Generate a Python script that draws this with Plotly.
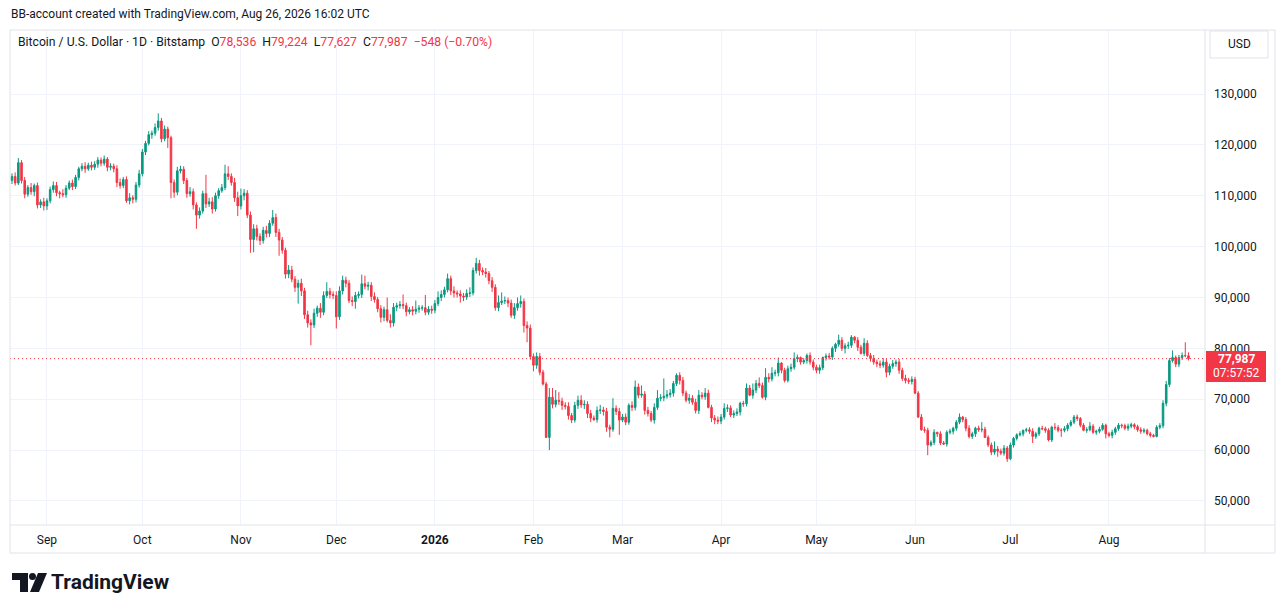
import pandas as pd
import plotly.graph_objects as go

# daily closes, thousands of USD (Bitstamp BTC/USD), one list per month
close_aug25 = [113.8, 112.5, 116.5, 113.0, 110.3, 111.6, 110.8, 112.0, 108.2, 108.8, 108.0]
close_sep25 = [109.0, 111.2, 112.0, 110.6, 110.4, 110.2, 111.5, 112.5, 111.8, 113.6,
               115.3, 115.8, 115.3, 116.0, 115.6, 116.2, 117.0, 116.4, 117.2, 115.6,
               115.8, 115.3, 112.6, 112.0, 113.2, 109.0, 109.6, 109.3, 112.1, 114.3]
close_oct25 = [118.6, 120.3, 122.0, 122.3, 123.4, 124.7, 121.2, 123.1, 121.4, 112.6,
               110.7, 114.9, 115.2, 113.0, 110.4, 110.8, 108.2, 106.2, 107.0, 110.4,
               108.4, 108.8, 107.4, 110.0, 111.0, 111.6, 114.3, 113.8, 112.6, 109.6, 108.0]
close_nov25 = [110.0, 110.5, 106.2, 101.4, 103.5, 102.0, 101.2, 103.2, 102.6, 104.6,
               105.7, 102.8, 101.3, 99.3, 94.6, 95.4, 93.6, 92.0, 92.8, 91.3,
               86.6, 85.0, 84.6, 86.9, 87.9, 87.1, 90.4, 91.2, 90.6, 90.4]
close_dec25 = [86.2, 91.3, 93.4, 92.8, 89.4, 89.2, 90.4, 90.6, 92.7, 92.2,
               92.4, 90.2, 89.6, 87.8, 86.1, 87.6, 85.5, 85.0, 88.1, 88.4,
               88.6, 88.4, 87.2, 87.6, 87.3, 87.7, 87.9, 88.0, 87.1, 87.7, 87.5]
close_jan26 = [88.8, 90.0, 90.6, 91.5, 93.7, 91.3, 90.9, 90.7, 90.3, 90.1,
               90.8, 90.9, 95.3, 96.7, 95.3, 95.0, 94.7, 93.3, 92.0, 88.0,
               89.0, 89.3, 89.4, 88.9, 86.5, 88.0, 88.8, 89.2, 84.5, 84.0, 78.4]
close_feb26 = [76.7, 78.4, 75.3, 73.0, 62.5, 70.4, 69.0, 69.8, 69.6, 68.8,
               68.6, 66.8, 65.9, 68.8, 69.8, 68.9, 69.0, 67.2, 66.3, 66.0,
               67.8, 67.9, 67.6, 64.5, 64.1, 68.2, 67.6, 65.9]
close_mar26 = [66.5, 65.5, 68.8, 68.4, 72.4, 70.8, 71.0, 67.8, 67.2, 65.9,
               68.4, 70.2, 70.3, 70.6, 70.9, 71.2, 73.1, 74.7, 73.7, 71.2,
               69.8, 70.2, 69.4, 67.8, 70.8, 70.5, 71.2, 68.4, 66.3, 65.9, 65.7]
close_apr26 = [66.5, 68.2, 68.3, 66.9, 67.2, 67.5, 69.2, 69.1, 72.2, 70.8,
               71.8, 73.1, 72.7, 70.4, 74.3, 74.0, 75.1, 75.2, 77.1, 75.7,
               73.7, 76.0, 76.3, 78.0, 78.2, 77.3, 77.6, 78.6, 77.3, 76.3]
close_may26 = [75.7, 76.2, 78.2, 78.5, 78.3, 80.0, 80.8, 81.6, 80.0, 80.5,
               80.6, 82.2, 81.6, 80.2, 79.0, 81.0, 78.6, 78.0, 77.3, 77.0,
               76.7, 77.3, 75.3, 76.5, 77.0, 77.3, 75.7, 74.1, 73.7, 73.5, 73.9]
close_jun26 = [71.2, 66.5, 64.0, 63.9, 61.0, 61.5, 63.5, 63.2, 61.4, 61.2,
               63.5, 63.7, 64.3, 65.5, 66.5, 66.0, 64.3, 62.7, 63.2, 64.3,
               64.0, 64.1, 62.5, 61.0, 59.6, 60.2, 59.8, 59.4, 60.4, 58.3]
close_jul26 = [61.0, 62.3, 63.0, 63.2, 63.9, 64.0, 63.7, 62.7, 63.2, 64.3,
               64.2, 63.9, 62.0, 64.5, 64.4, 63.9, 63.9, 64.2, 64.9, 65.5,
               66.5, 66.2, 64.9, 63.9, 64.0, 64.7, 63.5, 63.7, 64.1, 64.9, 63.2]
close_aug26 = [62.9, 63.5, 64.2, 64.9, 64.8, 64.3, 64.7, 65.0, 64.6, 64.0,
               63.7, 63.9, 63.2, 62.9, 62.7, 64.5, 64.8, 69.2, 72.9, 77.6,
               78.2, 76.9, 78.2, 78.6, 78.536, 77.987]

# upper / lower wick lengths (thousands) per candle
up_aug25 = [0.6, 0.8, 0.9, 0.5, 0.7, 0.5, 0.9, 0.4, 0.6, 0.5, 0.8]
up_sep25 = [0.5, 0.6, 0.8, 0.7, 0.4, 0.9, 0.6, 0.5, 0.7, 0.5, 0.4, 0.6, 0.8, 0.5, 0.7,
            0.6, 0.6, 0.5, 0.7, 0.4, 0.6, 0.5, 0.7, 0.8, 0.5, 0.6, 0.9, 0.5, 0.6, 0.8]
up_oct25 = [0.6, 0.5, 0.7, 0.5, 0.8, 1.5, 0.6, 0.7, 0.5, 0.4, 0.6, 0.8, 0.7, 0.6, 0.5, 0.9,
            0.6, 0.5, 0.7, 0.6, 3.7, 0.8, 0.9, 0.6, 0.5, 0.7, 1.8, 1.5, 0.6, 0.9, 1.2]
up_nov25 = [1.4, 0.8, 0.6, 0.7, 0.9, 0.8, 0.6, 0.7, 0.9, 0.6, 1.5, 0.8, 0.7, 0.6, 0.5,
            1.0, 0.8, 0.6, 0.7, 0.9, 0.6, 0.8, 0.7, 0.9, 0.5, 1.0, 0.8, 1.8, 0.7, 0.6]
up_dec25 = [0.8, 0.9, 0.9, 0.7, 0.6, 0.8, 0.7, 0.6, 1.8, 1.6, 0.7, 0.6, 0.8, 0.5, 0.7, 0.6,
            2.4, 1.2, 0.8, 0.6, 0.7, 2.0, 0.6, 0.5, 0.7, 1.7, 0.6, 0.5, 2.5, 0.6, 0.7]
up_jan26 = [0.7, 1.2, 0.8, 0.6, 1.0, 0.6, 0.9, 0.5, 0.7, 0.6, 0.8, 1.1, 0.6, 1.1, 0.7, 0.6,
            0.8, 0.5, 0.7, 0.6, 1.4, 1.7, 0.8, 0.6, 0.7, 0.9, 1.2, 1.2, 0.6, 0.8, 0.7]
up_feb26 = [0.6, 0.8, 0.7, 0.5, 0.4, 1.8, 1.8, 2.0, 1.6, 0.7, 0.6, 0.8, 0.5, 0.7,
            0.9, 1.0, 0.8, 0.6, 0.7, 0.5, 0.8, 1.0, 0.6, 0.7, 0.5, 2.0, 0.6, 0.7]
up_mar26 = [0.6, 0.7, 0.4, 0.8, 1.3, 0.7, 1.7, 0.6, 0.7, 0.5, 0.8, 1.6, 0.7, 3.5, 0.9, 0.8,
            0.5, 0.4, 0.6, 0.7, 0.5, 0.8, 0.6, 0.7, 1.0, 0.6, 1.0, 0.7, 0.5, 0.6, 0.7]
up_apr26 = [0.6, 1.0, 0.7, 0.5, 0.6, 0.7, 0.3, 0.5, 0.9, 0.6, 1.3, 0.7, 1.2, 0.6, 1.8,
            0.8, 1.2, 0.6, 1.1, 0.2, 0.5, 0.6, 0.7, 1.2, 0.6, 0.2, 0.5, 0.4, 0.6, 0.5]
up_may26 = [0.5, 0.6, 0.2, 0.5, 0.6, 0.4, 0.3, 1.1, 0.6, 0.5, 0.7, 0.4, 0.2, 0.6, 0.5, 1.0,
            0.6, 0.5, 0.7, 0.5, 0.6, 0.8, 0.6, 0.5, 0.7, 0.5, 0.6, 0.5, 0.7, 0.5, 0.6]
up_jun26 = [0.5, 0.4, 0.6, 0.6, 0.5, 0.4, 0.6, 0.1, 0.5, 0.4, 0.4, 0.5, 0.3, 0.4, 0.7,
            0.2, 0.5, 0.6, 0.4, 0.3, 0.5, 1.4, 0.5, 0.4, 0.5, 1.5, 0.6, 0.5, 0.6, 0.4]
up_jul26 = [0.5, 0.3, 0.3, 0.5, 0.1, 0.4, 0.5, 0.6, 0.4, 0.3, 0.5, 0.4, 0.4, 0.3, 0.8, 0.5,
            0.4, 0.5, 0.4, 0.4, 0.4, 0.5, 0.3, 0.4, 0.5, 0.8, 0.4, 0.3, 0.5, 0.4, 0.3]
up_aug26 = [0.4, 0.5, 0.4, 0.4, 0.3, 0.4, 0.5, 0.4, 0.3, 0.4, 0.5, 0.4, 0.3,
            0.4, 0.3, 0.4, 0.5, 0.6, 0.7, 0.5, 1.4, 0.4, 0.5, 0.6, 2.6, 0.688]

dn_aug25 = [0.7, 0.5, 0.4, 0.6, 0.8, 0.5, 0.6, 0.9, 0.7, 0.6, 0.9]
dn_sep25 = [0.8, 0.5, 0.6, 0.7, 0.9, 0.5, 0.6, 0.4, 0.7, 0.5, 0.6, 0.5, 0.8, 0.4, 0.6,
            0.5, 0.7, 0.6, 0.5, 0.8, 0.6, 0.7, 0.9, 0.6, 0.5, 0.4, 0.7, 0.8, 0.6, 0.5]
dn_oct25 = [0.5, 0.6, 0.4, 0.8, 0.5, 0.6, 0.7, 0.5, 2.0, 3.1, 1.1, 0.6, 0.5, 0.7, 0.8, 0.6,
            0.9, 2.7, 0.7, 0.5, 0.8, 0.6, 0.9, 0.5, 0.6, 0.4, 0.5, 0.7, 0.6, 0.8, 2.0]
dn_nov25 = [0.7, 0.9, 0.6, 2.6, 2.5, 0.8, 0.9, 0.6, 0.8, 0.7, 0.5, 0.9, 3.1, 0.7, 0.9,
            0.8, 0.6, 0.9, 3.2, 1.0, 0.8, 0.9, 4.0, 0.6, 0.7, 1.1, 0.6, 0.5, 0.8, 0.7]
dn_dec25 = [2.3, 0.6, 0.7, 0.8, 0.5, 0.9, 1.4, 0.6, 0.7, 0.6, 0.8, 0.9, 0.6, 0.7, 1.0, 0.8,
            0.4, 0.9, 0.7, 0.8, 0.6, 0.7, 0.9, 0.5, 0.8, 0.6, 0.7, 0.5, 0.6, 0.5, 0.7]
dn_jan26 = [0.6, 0.5, 0.7, 0.6, 0.5, 0.8, 0.9, 0.7, 1.3, 0.8, 0.6, 0.7, 0.5, 0.6, 1.0, 0.6,
            0.8, 0.7, 0.9, 0.6, 0.7, 0.5, 0.6, 0.8, 0.5, 0.7, 0.6, 0.8, 1.4, 2.8, 0.6]
dn_feb26 = [1.2, 0.7, 0.6, 0.3, 0.1, 2.5, 0.8, 0.6, 0.7, 0.9, 0.6, 0.8, 0.6, 0.5,
            0.7, 0.6, 0.8, 0.9, 0.8, 0.3, 0.6, 0.7, 0.8, 0.9, 1.6, 0.5, 0.7, 2.9]
dn_mar26 = [0.4, 0.6, 0.5, 0.7, 0.6, 0.6, 0.5, 0.8, 0.6, 0.4, 0.7, 0.5, 0.6, 0.7, 0.5, 0.6,
            0.7, 0.5, 0.8, 0.6, 0.4, 0.7, 0.5, 0.6, 0.7, 0.5, 0.6, 0.2, 0.8, 0.8, 0.6]
dn_apr26 = [0.6, 0.5, 0.7, 0.4, 0.6, 0.5, 0.7, 0.6, 0.5, 0.2, 0.7, 0.6, 0.5, 0.3, 0.6,
            0.7, 0.5, 0.6, 0.7, 0.6, 0.4, 0.4, 0.6, 0.5, 0.7, 0.5, 0.4, 0.6, 0.5, 0.6]
dn_may26 = [0.6, 0.7, 0.5, 0.6, 0.5, 0.6, 0.7, 0.5, 0.5, 1.0, 0.6, 0.5, 0.6, 0.7, 0.2, 0.5,
            0.3, 0.6, 0.5, 0.7, 0.6, 0.5, 1.0, 0.6, 0.5, 0.6, 0.7, 0.5, 0.6, 0.5, 0.6]
dn_jun26 = [0.2, 0.2, 0.2, 0.5, 2.0, 0.3, 0.5, 0.6, 0.4, 0.2, 0.5, 0.4, 0.6, 0.5, 0.4,
            0.5, 0.6, 0.4, 0.5, 0.6, 0.4, 0.5, 0.1, 0.4, 0.6, 0.5, 1.1, 0.4, 0.5, 0.6]
dn_jul26 = [0.3, 0.5, 0.4, 0.3, 0.5, 0.4, 0.5, 1.3, 0.5, 0.4, 0.3, 0.5, 0.3, 0.4, 0.5, 0.4,
            1.3, 0.4, 0.5, 0.3, 0.4, 0.5, 0.4, 0.2, 0.5, 0.3, 0.3, 0.5, 0.4, 0.3, 0.9]
dn_aug26 = [0.4, 0.6, 0.5, 0.4, 0.5, 0.4, 0.5, 0.4, 0.5, 0.4, 0.5, 0.4, 0.3,
            0.4, 0.2, 0.2, 0.4, 0.5, 0.6, 0.5, 0.4, 0.6, 0.6, 0.5, 0.3, 0.36]

first_open = 113.0
start_day = "2025-08-21"

# legend values as shown by TradingView for the last bar
last_change = -548
last_change_pct = -0.70
countdown = "07:57:52"

month_ticks = ["2025-09-01", "2025-10-01", "2025-11-01", "2025-12-01", "2026-01-01", "2026-02-01",
               "2026-03-01", "2026-04-01", "2026-05-01", "2026-06-01", "2026-07-01", "2026-08-01"]
month_text = ["Sep", "Oct", "Nov", "Dec", "<b>2026</b>", "Feb", "Mar", "Apr", "May", "Jun", "Jul", "Aug"]
price_ticks = [50000, 60000, 70000, 80000, 90000, 100000, 110000, 120000, 130000]

GREEN = "#089981"
RED = "#F23645"
TXT = "#131722"
GRID = "#f0f3fa"
BORDER = "#e0e3eb"
FONT = "Roboto, 'Liberation Sans', sans-serif"

closes_k = (close_aug25 + close_sep25 + close_oct25 + close_nov25 + close_dec25 + close_jan26
            + close_feb26 + close_mar26 + close_apr26 + close_may26 + close_jun26 + close_jul26 + close_aug26)
up_k = (up_aug25 + up_sep25 + up_oct25 + up_nov25 + up_dec25 + up_jan26 + up_feb26
        + up_mar26 + up_apr26 + up_may26 + up_jun26 + up_jul26 + up_aug26)
dn_k = (dn_aug25 + dn_sep25 + dn_oct25 + dn_nov25 + dn_dec25 + dn_jan26 + dn_feb26
        + dn_mar26 + dn_apr26 + dn_may26 + dn_jun26 + dn_jul26 + dn_aug26)

df = pd.DataFrame({"close": closes_k, "up": up_k, "dn": dn_k})
df["open"] = [first_open] + closes_k[:-1]   # 24/7 market: open = previous close
df["high"] = df[["open", "close"]].max(axis=1) + df["up"]
df["low"] = df[["open", "close"]].min(axis=1) - df["dn"]
df[["open", "high", "low", "close"]] *= 1000
df["date"] = pd.date_range(start_day, periods=len(df), freq="D")
last = df.iloc[-1]

# page geometry (pixels)
W, H = 1281, 613
L, R, T, B = 10, 1205, 30, 525


def px(x):
    return (x - L) / (R - L)


def py(y):
    return (B - y) / (B - T)


fig = go.Figure()
fig.add_trace(go.Candlestick(
    x=df["date"], open=df["open"], high=df["high"], low=df["low"], close=df["close"],
    increasing=dict(line=dict(color=GREEN, width=1), fillcolor=GREEN),
    decreasing=dict(line=dict(color=RED, width=1), fillcolor=RED),
    whiskerwidth=0, hoverinfo="skip", showlegend=False,
))

t0 = df["date"].iloc[0]
fig.update_layout(
    width=W, height=H,
    margin=dict(l=L, r=W - R, t=T, b=H - B),
    paper_bgcolor="white", plot_bgcolor="white",
    font=dict(family=FONT, size=12, color=TXT),
    xaxis=dict(
        range=[t0 - pd.Timedelta(hours=15), t0 + pd.Timedelta(days=375.2)],
        rangeslider=dict(visible=False),
        tickvals=month_ticks, ticktext=month_text,
        showgrid=True, gridcolor=GRID, gridwidth=1,
        showline=False, zeroline=False, ticks="", ticklabelstandoff=6,
        tickfont=dict(size=12, color=TXT),
        fixedrange=True,
    ),
    yaxis=dict(
        range=[45280, 142580], side="right",
        tickvals=price_ticks, tickformat=",d",
        showgrid=True, gridcolor=GRID, gridwidth=1,
        showline=False, zeroline=False, ticks="", ticklabelstandoff=8,
        tickfont=dict(size=12, color=TXT),
        fixedrange=True,
    ),
)

shapes = [
    # last price dotted line
    dict(type="line", xref="paper", yref="y", x0=0, x1=1, y0=last["close"], y1=last["close"],
         line=dict(color=RED, width=1, dash="1px,3px")),
    # pane borders
    dict(type="rect", xref="paper", yref="paper", x0=px(10), x1=px(1275), y0=py(553), y1=py(30),
         line=dict(color=BORDER, width=1)),
    dict(type="line", xref="paper", yref="paper", x0=px(1205), x1=px(1205), y0=py(553), y1=py(30),
         line=dict(color=BORDER, width=1)),
    dict(type="line", xref="paper", yref="paper", x0=px(10), x1=px(1275), y0=py(525), y1=py(525),
         line=dict(color=BORDER, width=1)),
    # USD button
    dict(type="rect", xref="paper", yref="paper", x0=px(1210), x1=px(1268), y0=py(58), y1=py(31),
         line=dict(color=BORDER, width=1), fillcolor="white"),
    # last price tag
    dict(type="rect", xref="paper", yref="paper", x0=px(1206), x1=px(1266), y0=py(382), y1=py(351),
         line=dict(width=0), fillcolor=RED),
    # TradingView logo
    dict(type="path", xref="paper", yref="paper",
         path=(f"M {px(12)} {py(573)} L {px(28)} {py(573)} L {px(28)} {py(592)} L {px(20)} {py(592)} "
               f"L {px(20)} {py(580)} L {px(12)} {py(580)} Z"),
         fillcolor=TXT, line=dict(width=0)),
    dict(type="circle", xref="paper", yref="paper", x0=px(29), x1=px(36), y0=py(580), y1=py(573),
         fillcolor=TXT, line=dict(width=0)),
    dict(type="path", xref="paper", yref="paper",
         path=(f"M {px(38)} {py(573)} L {px(47)} {py(573)} L {px(39)} {py(592)} L {px(30)} {py(592)} Z"),
         fillcolor=TXT, line=dict(width=0)),
]
fig.update_layout(shapes=shapes)


def note(x, y, text, size=12, color=TXT, xanchor="left", **kw):
    fig.add_annotation(x=px(x), y=py(y), xref="paper", yref="paper", text=text, showarrow=False,
                       xanchor=xanchor, yanchor="middle", font=dict(size=size, color=color, family=FONT), **kw)


def red(v):
    return f"<span style='color:{RED}'>{v}</span>"


note(9, 14, "BB-account created with TradingView.com, Aug 26, 2026 16:02 UTC", size=12)
legend = ("Bitcoin / U.S. Dollar · 1D · Bitstamp  "
          f"O{red(f'{last.open:,.0f}')}  H{red(f'{last.high:,.0f}')}  "
          f"L{red(f'{last.low:,.0f}')}  C{red(f'{last.close:,.0f}')}  "
          + red(f"−{abs(last_change):,} (−{abs(last_change_pct):.2f}%)"))
note(16, 42, legend, size=12.2)
note(1239, 44, "USD", xanchor="center")
note(1236, 359, f"<b>{last.close:,.0f}</b>", color="white", xanchor="center")
note(1236, 373, countdown, color="white", xanchor="center")
note(49, 582, "<b>TradingView</b>", size=21)

# the page has the browser's default 8px body margin; remove it so pixels line up
fig.write_html("out.html", config={"displayModeBar": False},
               post_script="document.body.style.margin='0px';")
